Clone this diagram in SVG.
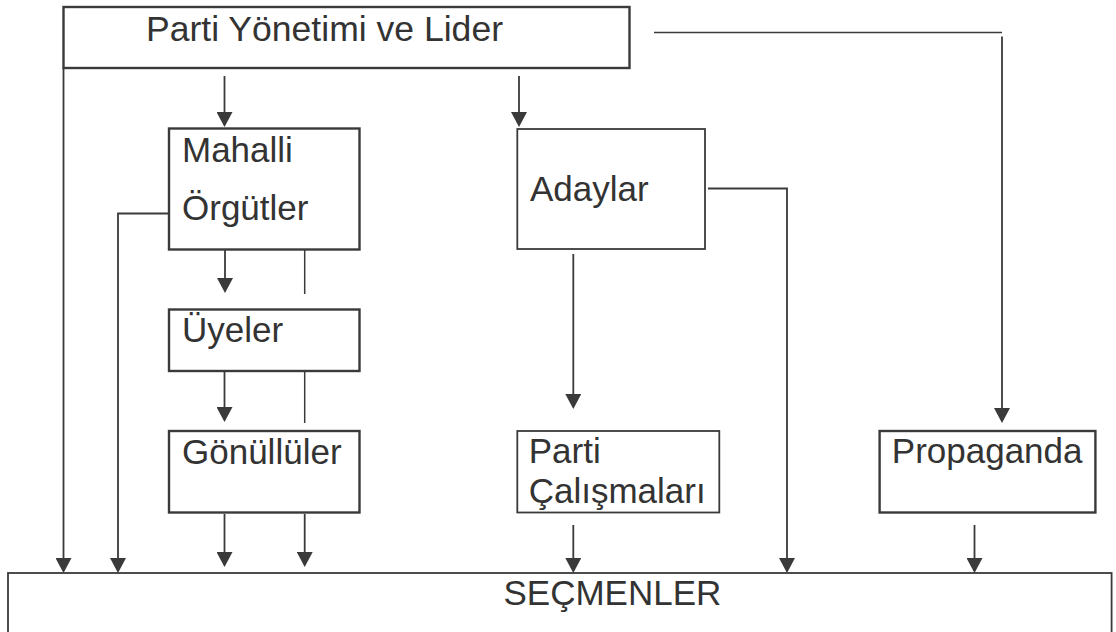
<svg xmlns="http://www.w3.org/2000/svg" width="1116" height="632" viewBox="0 0 1116 632">
<style>
  .box { fill: #ffffff; stroke: #3a3a3a; stroke-width: 2.4; }
  .thin { stroke-width: 1.8; }
  .lbl { font-family: "Liberation Sans", Arial, Helvetica, sans-serif; font-size: 35px; fill: #333333; }
  .arr { fill: none; stroke: #3a3a3a; stroke-width: 1.8; marker-end: url(#ah); }
  .ln { fill: none; stroke: #3a3a3a; stroke-width: 1.5; }
</style>
<defs>
  <marker id="ah" viewBox="0 0 15 16" markerUnits="userSpaceOnUse" markerWidth="15" markerHeight="16" refX="13" refY="8" orient="auto">
    <path d="M0,0 L15,8 L0,16 z" fill="#3a3a3a"/>
  </marker>
</defs>
<rect x="0" y="0" width="1116" height="632" fill="#ffffff"/>

<g id="connectors">
  <!-- left edge of top box continuing down to voters -->
  <path class="arr" d="M63.5,68 V571"/>
  <!-- Mahalli left to voters -->
  <path class="arr" d="M169,213.5 H118 V571"/>
  <!-- top to Mahalli -->
  <path class="arr" d="M224.5,76 V125"/>
  <!-- top to Adaylar -->
  <path class="arr" d="M519,76 V125"/>
  <!-- Mahalli to Uyeler -->
  <path class="arr" d="M225,241.5 V291"/>
  <path class="ln" d="M304.7,240.5 V294"/>
  <!-- Uyeler to Gonulluler -->
  <path class="arr" d="M224.5,371 V420"/>
  <path class="ln" d="M304.7,371 V423"/>
  <!-- Gonulluler to voters -->
  <path class="arr" d="M224.5,514 V565"/>
  <path class="arr" d="M304.7,514 V565"/>
  <!-- Adaylar to Parti Calismalari -->
  <path class="arr" d="M573.3,254 V407"/>
  <!-- Adaylar right to voters -->
  <path class="arr" d="M708,188.5 H787 V571"/>
  <!-- Parti Calismalari to voters -->
  <path class="arr" d="M573.3,525 V571"/>
  <!-- top right to Propaganda -->
  <path class="ln" d="M654,32.5 H1002"/>
  <path class="arr" d="M1002,36.5 V421"/>
  <!-- Propaganda to voters -->
  <path class="arr" d="M974.5,525 V571"/>
</g>

<g id="node-parti-yonetimi">
  <rect class="box" x="63.5" y="7" width="566" height="61"/>
  <text class="lbl" x="146" y="41" textLength="357" lengthAdjust="spacingAndGlyphs">Parti Yönetimi ve Lider</text>
</g>

<g id="node-mahalli">
  <rect class="box" x="169" y="128.5" width="190.5" height="121"/>
  <text class="lbl" x="182" y="161.5">Mahalli</text>
  <text class="lbl" x="182" y="220">Örgütler</text>
</g>

<g id="node-adaylar">
  <rect class="box thin" x="517.3" y="129" width="187.7" height="120"/>
  <text class="lbl" x="530" y="201">Adaylar</text>
</g>

<g id="node-uyeler">
  <rect class="box" x="169" y="309.5" width="190.5" height="61.5"/>
  <text class="lbl" x="182" y="341.5">Üyeler</text>
</g>

<g id="node-gonulluler">
  <rect class="box" x="169" y="431" width="190.5" height="81.5"/>
  <text class="lbl" x="182" y="463.5">Gönüllüler</text>
</g>

<g id="node-parti-calismalari">
  <rect class="box thin" x="517.3" y="431" width="202" height="81.5"/>
  <text class="lbl" x="528.7" y="463">Parti</text>
  <text class="lbl" x="528.7" y="502.7">Çalışmaları</text>
</g>

<g id="node-propaganda">
  <rect class="box" x="879.6" y="431" width="215.8" height="81.5"/>
  <text class="lbl" x="891.8" y="463.3">Propaganda</text>
</g>

<g id="node-secmenler">
  <rect class="box thin" x="8" y="573" width="1103.6" height="80"/>
  <text class="lbl" x="503.5" y="605">SEÇMENLER</text>
</g>
</svg>
